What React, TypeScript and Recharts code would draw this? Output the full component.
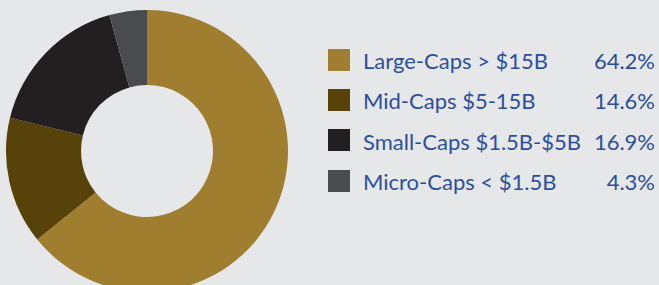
import React from 'react';
import { PieChart, Pie, Cell } from 'recharts';

const categories = ['Large-Caps > $15B', 'Mid-Caps $5-15B', 'Small-Caps $1.5B-$5B', 'Micro-Caps < $1.5B'];
const values = [64.2, 14.6, 16.9, 4.3];
const labels = ['64.2%', '14.6%', '16.9%', '4.3%'];
const colors = ['#a07e30', '#574209', '#231f20', '#4a4b4d'];

const data = categories.map((name, i) => ({ name, value: values[i] }));

export default function App() {
  return (
    <div
      style={{
        position: 'absolute',
        left: 0,
        top: 0,
        width: 659,
        height: 285,
        background: '#e6e7e9',
        overflow: 'hidden',
        fontFamily: 'Lato, sans-serif',
      }}
    >
      <div style={{ position: 'absolute', left: 0, top: 0 }}>
        <PieChart width={300} height={285} margin={{ top: 0, right: 0, bottom: 0, left: 0 }}>
          <Pie
            data={data}
            dataKey="value"
            nameKey="name"
            cx={147}
            cy={151}
            outerRadius={141}
            innerRadius={66}
            startAngle={90}
            endAngle={-270}
            stroke="none"
            isAnimationActive={false}
          >
            {data.map((d, i) => (
              <Cell key={d.name} fill={colors[i]} />
            ))}
          </Pie>
        </PieChart>
      </div>
      {categories.map((name, i) => {
        const cy = 59.5 + i * 40.4;
        return (
          <React.Fragment key={name}>
            <div
              style={{
                position: 'absolute',
                left: 328,
                top: cy - 11,
                width: 22,
                height: 22,
                background: colors[i],
              }}
            />
            <div
              style={{
                position: 'absolute',
                left: 363,
                top: cy - 12.7,
                height: 28,
                lineHeight: '28px',
                fontSize: 22,
                color: '#2d4f9b',
                whiteSpace: 'nowrap',
              }}
            >
              {name}
            </div>
            <div
              style={{
                position: 'absolute',
                right: 4,
                top: cy - 12.7,
                height: 28,
                lineHeight: '28px',
                fontSize: 22,
                color: '#2d4f9b',
                textAlign: 'right',
                whiteSpace: 'nowrap',
              }}
            >
              {labels[i]}
            </div>
          </React.Fragment>
        );
      })}
    </div>
  );
}
